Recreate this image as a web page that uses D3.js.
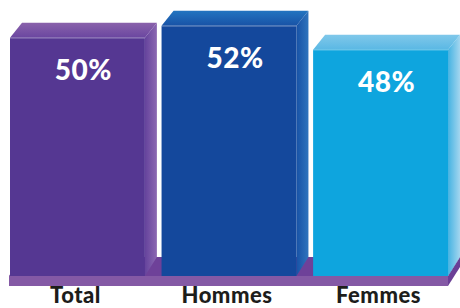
<!DOCTYPE html>
<html>
<head>
<meta charset="utf-8">
<script src="https://cdn.jsdelivr.net/npm/d3@7"></script>
<style>
  body { margin: 0; background: #fff; }
  svg { display: block; }
</style>
</head>
<body>
<div id="chart"></div>
<script>
// data
const categories = ["Total", "Hommes", "Femmes"];
const values = [50, 52, 48];
const valueLabels = ["50%", "52%", "48%"];

const frontColors = ["#553792", "#14489c", "#0ea5de"];
const topColors = [["#8a62ab", "#6a46a0"], ["#2274c0", "#1852a6"], ["#80c8ea", "#5ab8e4"]];
const sideColors = [["#65439c", "#8c68b2"], ["#1852a6", "#2f74bd"], ["#45b3e2", "#a4d6ef"]];

const width = 460, height = 308;
const baseY = 276;        // front bottom of bars
const dx = 12, dy = 15;   // bar depth
const bdy = 19;           // base slab depth

const svg = d3.select('#chart').append('svg')
    .attr('width', width)
    .attr('height', height);

const defs = svg.append('defs');

const x = d3.scaleBand()
    .domain(categories)
    .range([10, 448])
    .paddingInner(0.11)
    .paddingOuter(0);

const y = d3.scaleLinear()
    .domain([10, 55])
    .range([baseY, 8]);

// gradients
categories.forEach((c, i) => {
    const gt = defs.append('linearGradient')
        .attr('id', 'top' + i).attr('x1', 0).attr('y1', 0).attr('x2', 0).attr('y2', 1);
    gt.append('stop').attr('offset', '0%').attr('stop-color', topColors[i][0]);
    gt.append('stop').attr('offset', '100%').attr('stop-color', topColors[i][1]);

    const gs = defs.append('linearGradient')
        .attr('id', 'side' + i).attr('x1', 0).attr('y1', 0).attr('x2', 1).attr('y2', 0);
    gs.append('stop').attr('offset', '0%').attr('stop-color', sideColors[i][0]);
    gs.append('stop').attr('offset', '100%').attr('stop-color', sideColors[i][1]);
});

// base slab
const bx0 = 9, bx1 = 448;
svg.append('polygon')
    .attr('points', [[bx0, baseY], [bx0 + dx, baseY - bdy], [bx1 + dx, baseY - bdy], [bx1, baseY]].join(' '))
    .attr('fill', '#6e4199');
svg.append('polygon')
    .attr('points', [[bx1, baseY], [bx1 + dx, baseY - bdy], [bx1 + dx, baseY - bdy + 10], [bx1, baseY + 10]].join(' '))
    .attr('fill', '#6a3f96');
svg.append('rect')
    .attr('x', bx0).attr('y', baseY)
    .attr('width', bx1 - bx0).attr('height', 10)
    .attr('fill', '#8459a5');

const bars = svg.selectAll('g.bar')
    .data(categories)
    .join('g')
    .attr('class', 'bar');

// side face
bars.append('polygon')
    .attr('points', (d, i) => {
        const x1 = x(d) + x.bandwidth(), t = y(values[i]);
        return [[x1, t], [x1 + dx, t - dy], [x1 + dx, baseY - bdy], [x1, baseY]].join(' ');
    })
    .attr('fill', (d, i) => `url(#side${i})`);

// top face
bars.append('polygon')
    .attr('points', (d, i) => {
        const x0 = x(d), x1 = x0 + x.bandwidth(), t = y(values[i]);
        return [[x0, t], [x0 + dx, t - dy], [x1 + dx, t - dy], [x1, t]].join(' ');
    })
    .attr('fill', (d, i) => `url(#top${i})`);

// front face
bars.append('rect')
    .attr('x', d => x(d))
    .attr('y', (d, i) => y(values[i]))
    .attr('width', x.bandwidth())
    .attr('height', (d, i) => baseY - y(values[i]))
    .attr('fill', (d, i) => frontColors[i]);

// thin highlight along the front top edge
bars.append('line')
    .attr('x1', d => x(d))
    .attr('x2', d => x(d) + x.bandwidth())
    .attr('y1', (d, i) => y(values[i]) + 0.5)
    .attr('y2', (d, i) => y(values[i]) + 0.5)
    .attr('stroke', '#ffffff')
    .attr('stroke-opacity', 0.25);

// value labels
bars.append('text')
    .attr('x', d => x(d) + (x.bandwidth() + dx) / 2)
    .attr('y', (d, i) => y(values[i]) + 42)
    .attr('text-anchor', 'middle')
    .style('font-family', 'Lato, "DejaVu Sans", sans-serif')
    .style('font-weight', 900)
    .style('font-size', '28px')
    .style('letter-spacing', '0.5px')
    .style('fill', '#ffffff')
    .text((d, i) => valueLabels[i]);

// category labels
svg.selectAll('text.cat')
    .data(categories)
    .join('text')
    .attr('class', 'cat')
    .attr('x', d => x(d) + x.bandwidth() / 2 - 2)
    .attr('y', 303)
    .attr('text-anchor', 'middle')
    .style('font-family', 'Lato, "DejaVu Sans", sans-serif')
    .style('font-weight', 900)
    .style('font-size', '22px')
    .style('letter-spacing', '0.5px')
    .style('fill', '#1d1d1b')
    .text(d => d);
</script>
</body>
</html>
